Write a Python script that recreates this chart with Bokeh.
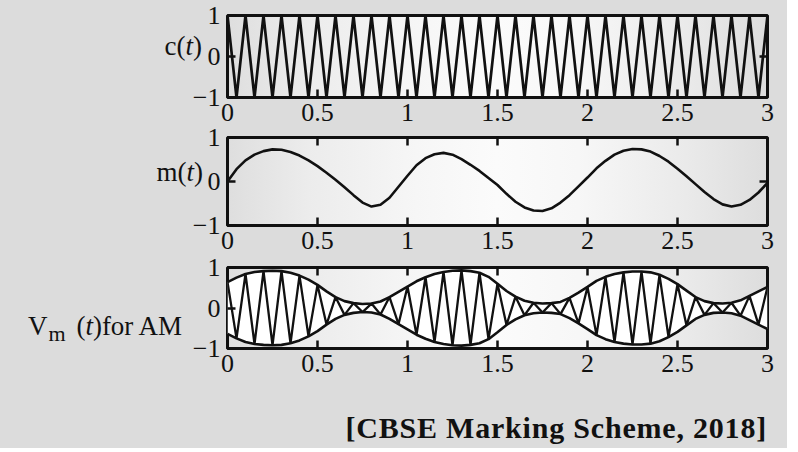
import math
from bokeh.plotting import figure
from bokeh.models import Range1d, LinearAxis, FixedTicker, Div
from bokeh.layouts import column, row
from bokeh.embed import file_html
from bokeh.resources import INLINE

# ---------------- data ----------------
t = [0.00, 0.05, 0.10, 0.15, 0.20, 0.25, 0.30, 0.35, 0.40, 0.45,
     0.50, 0.55, 0.60, 0.65, 0.70, 0.75, 0.80, 0.85, 0.90, 0.95,
     1.00, 1.05, 1.10, 1.15, 1.20, 1.25, 1.30, 1.35, 1.40, 1.45,
     1.50, 1.55, 1.60, 1.65, 1.70, 1.75, 1.80, 1.85, 1.90, 1.95,
     2.00, 2.05, 2.10, 2.15, 2.20, 2.25, 2.30, 2.35, 2.40, 2.45,
     2.50, 2.55, 2.60, 2.65, 2.70, 2.75, 2.80, 2.85, 2.90, 2.95,
     3.00]

carrier = [1, -1, 1, -1, 1, -1, 1, -1, 1, -1,
           1, -1, 1, -1, 1, -1, 1, -1, 1, -1,
           1, -1, 1, -1, 1, -1, 1, -1, 1, -1,
           1, -1, 1, -1, 1, -1, 1, -1, 1, -1,
           1, -1, 1, -1, 1, -1, 1, -1, 1, -1,
           1, -1, 1, -1, 1, -1, 1, -1, 1, -1,
           1]

message = [0.00, 0.28, 0.48, 0.61, 0.69, 0.73, 0.72, 0.67, 0.59, 0.48,
           0.35, 0.20, 0.04, -0.13, -0.31, -0.48, -0.57, -0.53, -0.37, -0.12,
           0.13, 0.37, 0.53, 0.62, 0.65, 0.61, 0.51, 0.38, 0.24, 0.08,
           -0.08, -0.28, -0.46, -0.59, -0.66, -0.67, -0.61, -0.48, -0.31, -0.11,
           0.09, 0.30, 0.47, 0.61, 0.70, 0.74, 0.73, 0.68, 0.58, 0.45,
           0.29, 0.12, -0.06, -0.24, -0.40, -0.52, -0.57, -0.53, -0.42, -0.25,
           -0.03]

envelope = [0.64, 0.75, 0.84, 0.89, 0.91, 0.92, 0.91, 0.87, 0.80, 0.70,
            0.57, 0.41, 0.27, 0.17, 0.12, 0.10, 0.11, 0.16, 0.27, 0.40,
            0.53, 0.66, 0.76, 0.84, 0.89, 0.92, 0.93, 0.91, 0.87, 0.77,
            0.60, 0.42, 0.28, 0.18, 0.13, 0.11, 0.12, 0.15, 0.25, 0.38,
            0.52, 0.67, 0.77, 0.84, 0.88, 0.90, 0.90, 0.88, 0.82, 0.72,
            0.59, 0.43, 0.27, 0.17, 0.12, 0.11, 0.13, 0.19, 0.30, 0.41,
            0.52]

x_ticks = [0, 0.5, 1, 1.5, 2, 2.5, 3]
x_tick_labels = ["0", "0.5", "1", "1.5", "2", "2.5", "3"]
y_ticks = [-1, 0, 1]
y_tick_labels = ["\u22121", "0", "1"]
caption = "[CBSE Marking Scheme, 2018]"

# derived series
am = [e * c for e, c in zip(envelope, carrier)]
env_low = [-e for e in envelope]

# ---------------- styling ----------------
BG = "#dcdcdc"
INK = "#111111"
FONT = "Liberation Serif"
TICK_FS = "26px"
LEFT_W = 185
FIG_W = 602
BORDER_L, BORDER_R = 42, 20
GRADIENT = ("linear-gradient(to right, #dedede 0%, #ececec 15%, #f6f6f6 35%, "
            "#fbfbfb 50%, #f7f7f7 65%, #eaeaea 85%, #dddddd 100%)")


def make_fig(height, top, bottom):
    frame_h = height - top - bottom
    frame_w = FIG_W - BORDER_L - BORDER_R
    p = figure(width=FIG_W, height=height,
               x_range=Range1d(0, 3), y_range=Range1d(-1, 1),
               output_backend="svg", toolbar_location=None,
               x_axis_location=None, y_axis_location=None,
               min_border_left=BORDER_L, min_border_right=BORDER_R,
               min_border_top=top, min_border_bottom=bottom, margin=0,
               styles={"background-image": GRADIENT,
                       "background-repeat": "no-repeat",
                       "background-position": f"{BORDER_L}px {top}px",
                       "background-size": f"{frame_w}px {frame_h}px"})
    p.grid.visible = False
    p.background_fill_alpha = 0
    p.border_fill_alpha = 0
    p.outline_line_color = INK
    p.outline_line_width = 3
    xa = LinearAxis(ticker=FixedTicker(ticks=x_ticks),
                    major_label_overrides=dict(zip(x_ticks, x_tick_labels)))
    ya = LinearAxis(ticker=FixedTicker(ticks=y_ticks),
                    major_label_overrides=dict(zip(y_ticks, y_tick_labels)))
    for ax, loc, sd in [(xa, "below", 6), (ya, "left", 7)]:
        ax.axis_line_color = None
        ax.major_tick_in = 8
        ax.major_tick_out = 0
        ax.major_tick_line_width = 2.5
        ax.major_tick_line_color = INK
        ax.minor_tick_line_color = None
        ax.major_label_text_font = FONT
        ax.major_label_text_color = INK
        ax.major_label_text_font_size = TICK_FS
        ax.major_label_standoff = sd
        p.add_layout(ax, loc)
    # inward ticks on the top and right edges of the box
    p.scatter(x=x_ticks, y=[1] * len(x_ticks), marker="dash", size=16,
              angle=math.pi / 2, line_color=INK, line_width=2.5)
    p.scatter(x=[3] * len(y_ticks), y=y_ticks, marker="dash", size=16,
              line_color=INK, line_width=2.5)
    return p


def label_div(height, inner_style, html):
    return Div(width=LEFT_W, height=height, margin=0,
               styles={"z-index": "2", "overflow": "visible"},
               text=(f'<div style="position:relative;width:{LEFT_W}px;height:{height}px;">'
                     f'<span style="position:absolute;white-space:nowrap;color:{INK};'
                     f"font-family:'{FONT}';font-size:27px;line-height:27px;{inner_style}\">"
                     f'{html}</span></div>'))


# figure 1: 0..133 (frame 15..97); figure 2: 117..261 (frame 137..225);
# figure 3: 247..384 (frame 267..348); caption: 384..448
H1, H2, H3, H4 = 133, 144, 137, 64

# ---- c(t) ----
p1 = make_fig(H1, 15, 36)
p1.line(t, carrier, line_color=INK, line_width=2.7)
d1 = label_div(H1, "right:-17px;top:33px;", "c(<i>t</i>)")

# ---- m(t) ----
p2 = make_fig(H2, 20, 36)
p2.line(t, message, line_color=INK, line_width=2.6)
d2 = label_div(H2, "right:-18px;top:42px;", "m(<i>t</i>)")

# ---- AM ----
p3 = make_fig(H3, 20, 36)
p3.varea(x=t, y1=env_low, y2=envelope, fill_color="white")
p3.line(t, envelope, line_color=INK, line_width=2.6)
p3.line(t, env_low, line_color=INK, line_width=2.6)
p3.line(t, am, line_color=INK, line_width=2.3)
d3 = label_div(H3, "left:28px;top:66px;",
               'V<span style="position:relative;top:6px;font-size:22px;margin-left:1px;margin-right:4px;">m</span>'
               ' (<i>t</i>)for AM')

# ---- caption ----
d4 = Div(width=LEFT_W + FIG_W, height=H4, margin=0,
         text=(f'<div style="position:relative;width:{LEFT_W + FIG_W}px;height:{H4}px;">'
               f'<span style="position:absolute;right:20px;top:29px;white-space:nowrap;'
               f"color:{INK};font-family:'{FONT}';font-weight:bold;font-size:30px;"
               f'letter-spacing:0.8px;line-height:30px;">{caption}</span></div>'))

layout = column(row(d1, p1, spacing=0, margin=0),
                row(d2, p2, spacing=0, margin=(-16, 0, 0, 0)),
                row(d3, p3, spacing=0, margin=(-14, 0, 0, 0)),
                d4,
                spacing=0, margin=0, styles={"background-color": BG})

open("out.html", "w").write(file_html(layout, INLINE))
